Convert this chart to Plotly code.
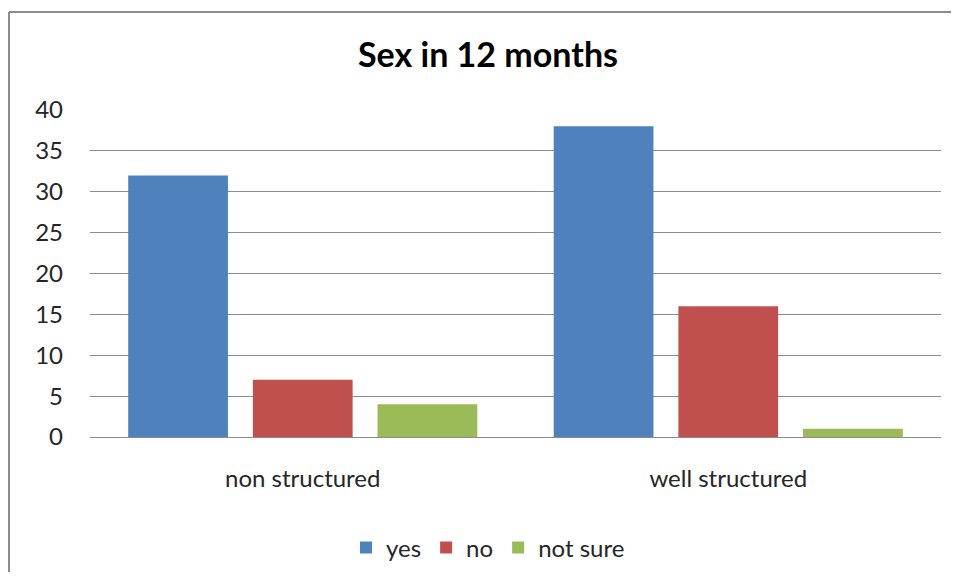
import plotly.graph_objects as go

# Chart data
CATEGORIES = ["non structured", "well structured"]
SERIES = ["yes", "no", "not sure"]
VALUES = {
    "yes": [32, 38],
    "no": [7, 16],
    "not sure": [4, 1],
}
COLORS = {"yes": "#4F81BD", "no": "#C0504D", "not sure": "#9BBB59"}
Y_TICKS = [0, 5, 10, 15, 20, 25, 30, 35, 40]

FONT = "Lato, 'Open Sans', sans-serif"

# The page body keeps its default 8px margin, so the figure is sized to fit inside it
W, H = 951, 564
L, R, T, B = 82, 18, 102, 135
PW, PH = W - L - R, H - T - B

fig = go.Figure()
for name in SERIES:
    fig.add_trace(
        go.Bar(
            x=CATEGORIES,
            y=VALUES[name],
            name=name,
            marker={"color": COLORS[name], "line": {"width": 0}},
        )
    )

fig.update_layout(
    width=W,
    height=H,
    margin={"l": L, "r": R, "t": T, "b": B},
    paper_bgcolor="white",
    plot_bgcolor="white",
    barmode="group",
    bargap=0.121,
    bargroupgap=0.2,
    font={"family": FONT, "color": "#262626", "size": 24},
    title={
        "text": "<b>Sex in 12 months</b>",
        "x": 480 / W,
        "xref": "container",
        "xanchor": "center",
        "y": 1 - 47 / H,
        "yanchor": "middle",
        "font": {"size": 34, "color": "#000000", "family": FONT},
    },
    legend={
        "orientation": "h",
        "x": 480 / W,
        "xref": "container",
        "xanchor": "center",
        "y": 1 - 540 / H,
        "yref": "container",
        "yanchor": "middle",
        "font": {"size": 24},
        "itemwidth": 30,
    },
    showlegend=True,
)

fig.update_yaxes(
    range=[0, 40],
    tickvals=Y_TICKS,
    showgrid=True,
    gridcolor="#8C8C8C",
    gridwidth=1,
    zeroline=False,
    showline=False,
    ticklabelstandoff=26,
    tickfont={"size": 24},
)
fig.update_xaxes(
    showline=True,
    linecolor="#8C8C8C",
    linewidth=1,
    showgrid=False,
    ticklabelstandoff=20,
    tickfont={"size": 24},
)

# Chart area border (cropped on the right and bottom in the original)
bx = -(L - 1) / PW
by = 1 + (T - 4) / PH
fig.add_shape(
    type="line", xref="paper", yref="paper",
    x0=bx, x1=1 + R / PW, y0=by, y1=by,
    line={"color": "#8C8C8C", "width": 2},
)
fig.add_shape(
    type="line", xref="paper", yref="paper",
    x0=bx, x1=bx, y0=by, y1=-B / PH,
    line={"color": "#8C8C8C", "width": 2},
)

# keep the page from showing scrollbars
fig.write_html(
    "out.html",
    config={"displayModeBar": False},
    post_script=(
        "document.documentElement.style.overflow='hidden';"
        "document.body.style.overflow='hidden';"
    ),
)
